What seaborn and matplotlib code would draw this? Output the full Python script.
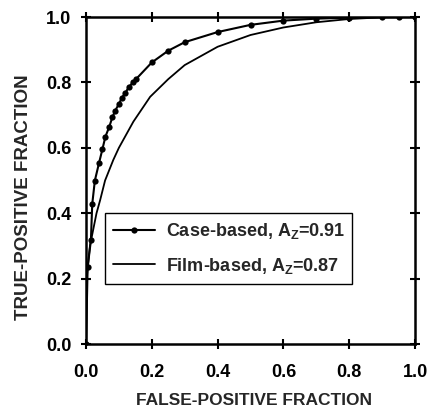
import numpy as np
import pandas as pd
import matplotlib
matplotlib.use("Agg")
import matplotlib.pyplot as plt
import seaborn as sns

# ROC points
case_fpf = [0.0, 0.005, 0.015, 0.019, 0.027, 0.04, 0.05, 0.059, 0.071, 0.08, 0.089,
            0.10, 0.109, 0.12, 0.13, 0.142, 0.152, 0.20, 0.25, 0.30, 0.40, 0.50,
            0.60, 0.70, 0.80, 0.90, 0.95, 1.0]
case_tpf = [0.0, 0.235, 0.318, 0.428, 0.50, 0.555, 0.596, 0.634, 0.665, 0.693, 0.714,
            0.734, 0.753, 0.769, 0.785, 0.80, 0.81, 0.861, 0.897, 0.923, 0.954, 0.976,
            0.989, 0.995, 0.998, 1.0, 1.0, 1.0]

film_fpf = [0.0, 0.002, 0.012, 0.032, 0.043, 0.058, 0.083, 0.10, 0.144, 0.195, 0.25,
            0.30, 0.40, 0.50, 0.60, 0.70, 0.80, 0.90, 1.0]
film_tpf = [0.0, 0.20, 0.30, 0.40, 0.44, 0.50, 0.563, 0.60, 0.68, 0.756, 0.81,
            0.853, 0.909, 0.945, 0.968, 0.984, 0.994, 0.999, 1.0]

case_label = r"Case-based, A$_\mathregular{Z}$=0.91"
film_label = r"Film-based, A$_\mathregular{Z}$=0.87"

sns.set_style("ticks")
plt.rcParams["font.family"] = ["Liberation Sans", "DejaVu Sans"]
plt.rcParams["font.weight"] = "bold"
plt.rcParams["mathtext.default"] = "regular"

fig = plt.figure(figsize=(4.31, 4.11), dpi=100)
ax = fig.add_axes([0.1995, 0.163, 0.7635, 0.7956])

sns.lineplot(x=case_fpf, y=case_tpf, ax=ax, color="black", lw=1.5,
             marker="o", markersize=4.5, markeredgewidth=0, label=case_label)
sns.lineplot(x=film_fpf, y=film_tpf, ax=ax, color="black", lw=1.3, label=film_label)

ax.set_xlim(0, 1)
ax.set_ylim(0, 1)
ticks = [0.0, 0.2, 0.4, 0.6, 0.8, 1.0]
ax.set_xticks(ticks)
ax.set_yticks(ticks)
ax.set_xticklabels(["%.1f" % t for t in ticks])
ax.set_yticklabels(["%.1f" % t for t in ticks])
ax.tick_params(direction="inout", length=7, width=1.5, labelsize=13,
               top=True, right=True, colors="black")
ax.tick_params(axis="x", pad=11)
ax.tick_params(axis="y", pad=7)
for lab in ax.get_xticklabels() + ax.get_yticklabels():
    lab.set_fontweight("bold")
for s in ax.spines.values():
    s.set_linewidth(1.8)
    s.set_color("black")

ax.set_xlabel("FALSE-POSITIVE FRACTION", fontsize=12.5, fontweight="bold")
ax.set_ylabel("TRUE-POSITIVE FRACTION", fontsize=13.5, fontweight="bold")
ax.xaxis.set_label_coords(0.51, -0.15)
ax.yaxis.set_label_coords(-0.164, 0.45)

leg = ax.legend(loc="upper left", bbox_to_anchor=(0.058, 0.40, 0.75, 0.0), mode="expand",
                fancybox=False, edgecolor="black", framealpha=1, handlelength=2.3,
                handletextpad=0.6, borderpad=0.45, labelspacing=0.8, borderaxespad=0,
                prop={"weight": "bold", "size": 13})
leg.get_frame().set_linewidth(1.0)

fig.savefig("out.png", dpi=100)
